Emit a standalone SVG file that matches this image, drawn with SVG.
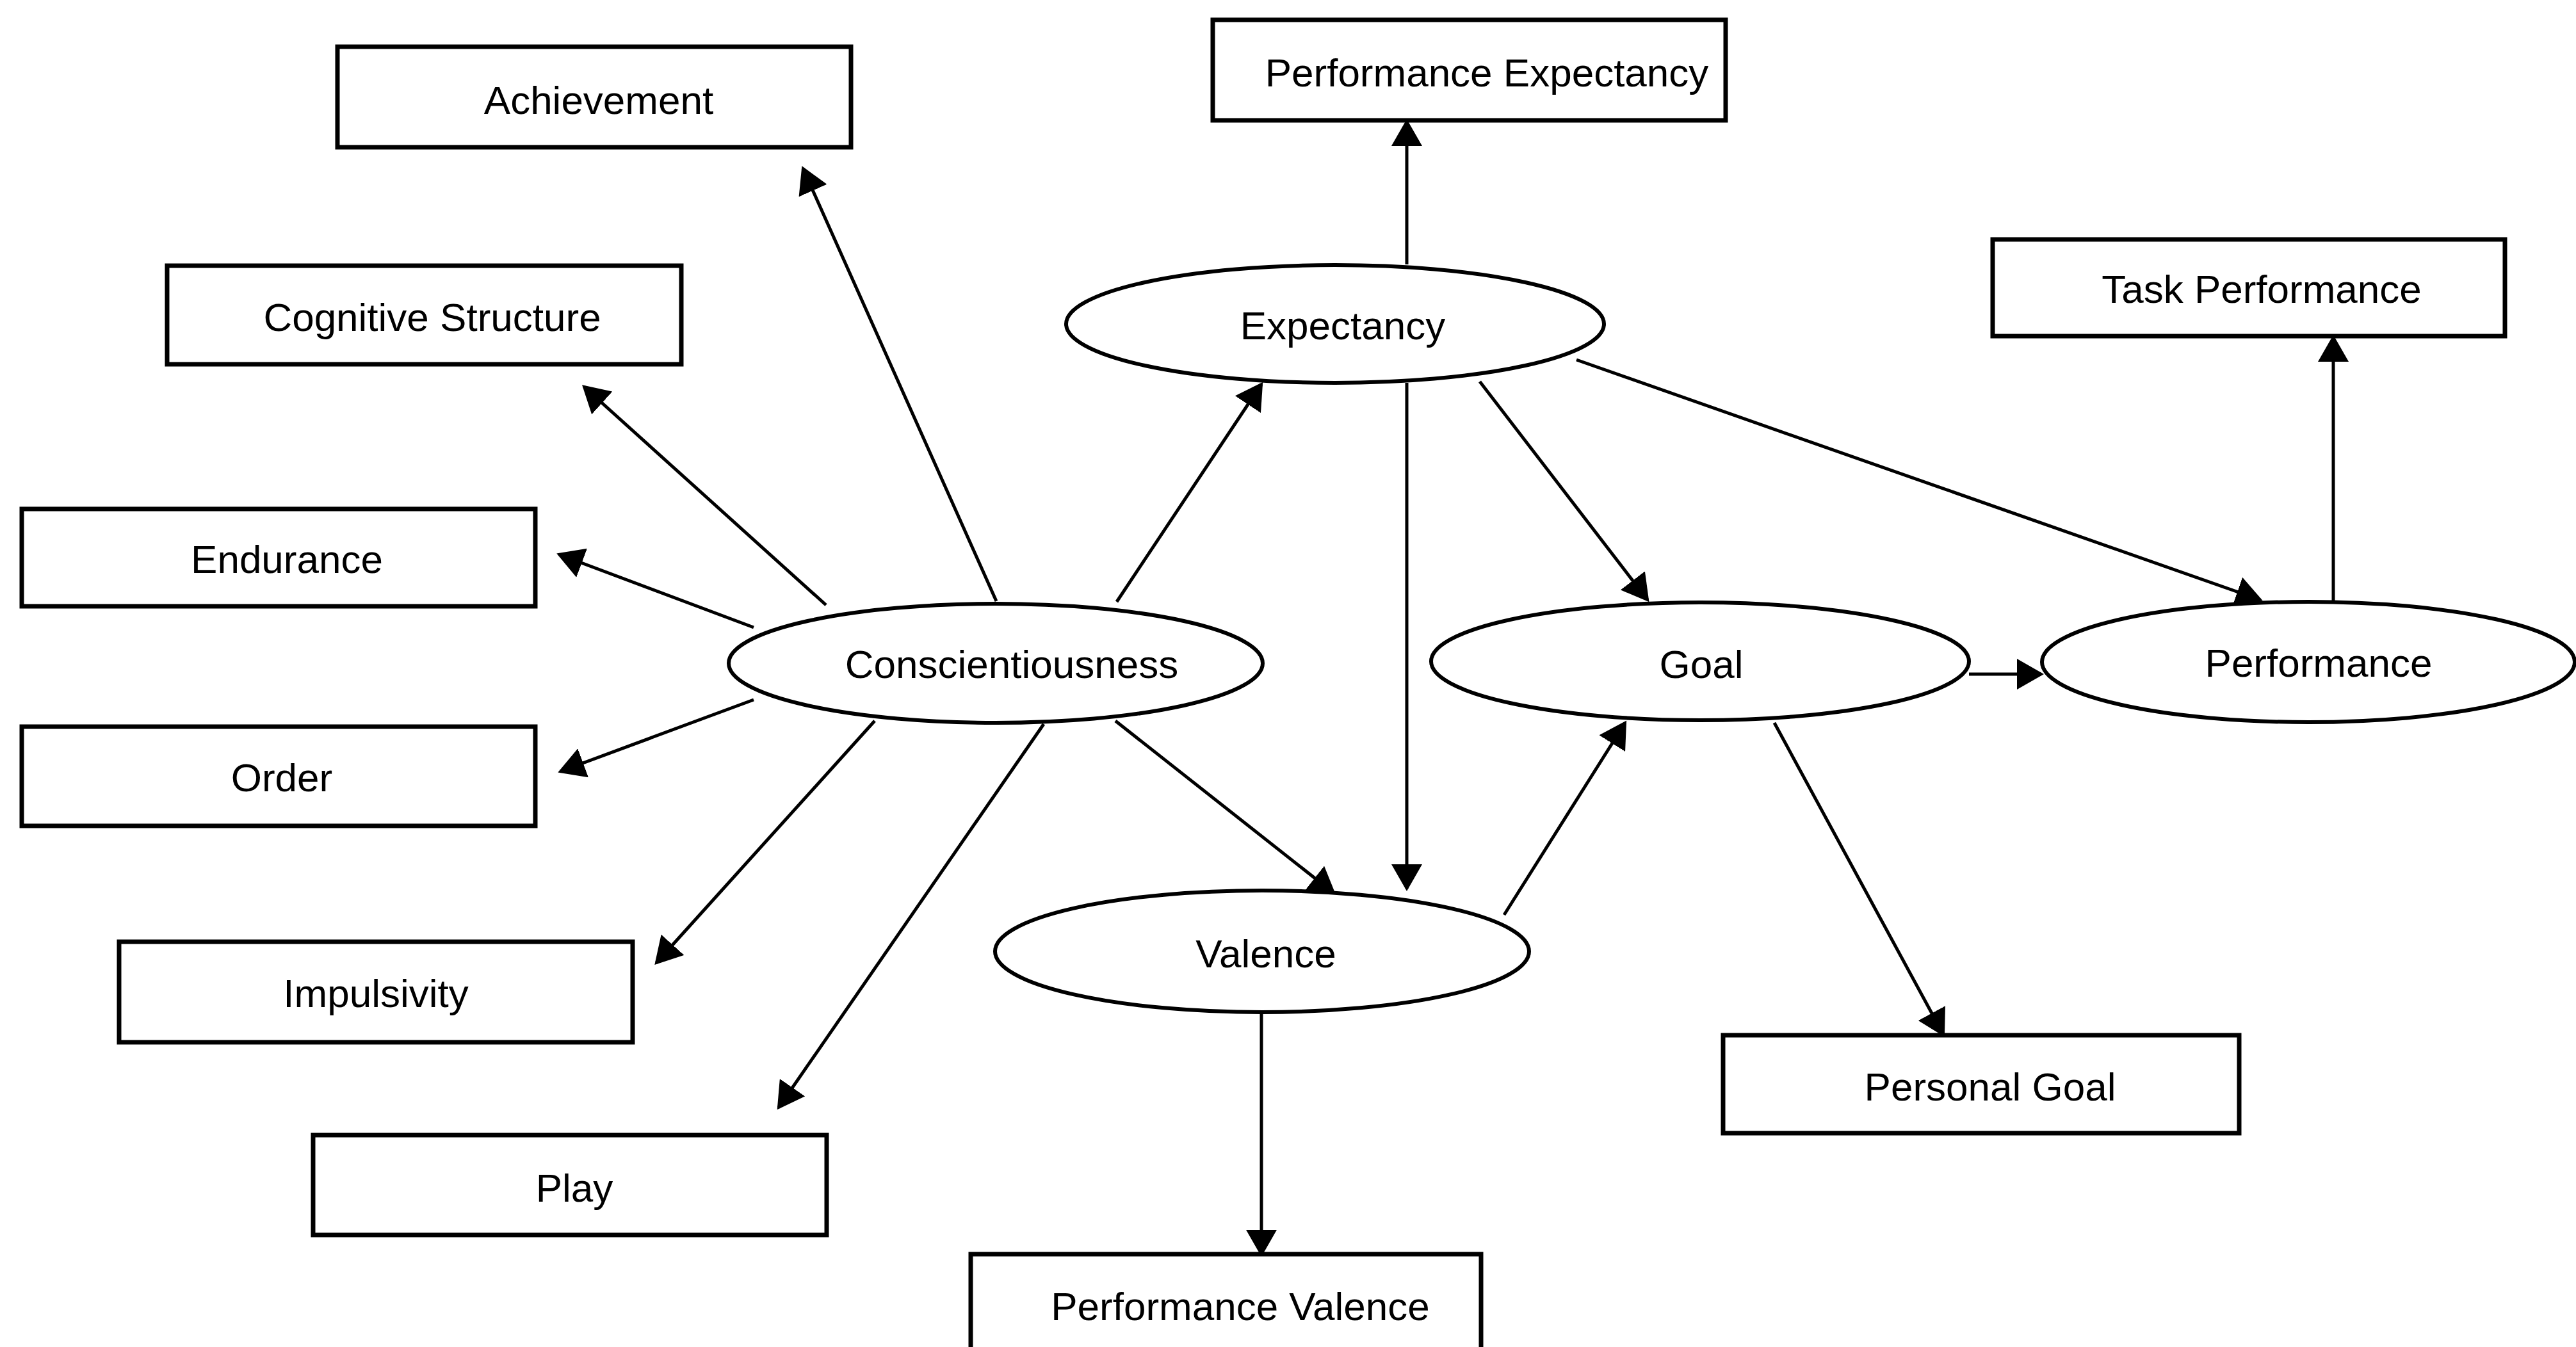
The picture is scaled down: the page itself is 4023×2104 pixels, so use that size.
<svg xmlns="http://www.w3.org/2000/svg" width="4023" height="2104" viewBox="0 0 4023 2104">
  <style>
    .box { fill: #fff; stroke: #000; stroke-width: 7; }
    .oval { fill: #fff; stroke: #000; stroke-width: 6; }
    .lbl { font-family: "Liberation Sans", Arial, sans-serif; font-size: 62px; fill: #000; text-anchor: middle; }
    .edge { stroke: #000; stroke-width: 5; fill: none; marker-end: url(#arr); }
  </style>
  <defs>
    <marker id="arr" viewBox="0 0 42 48" refX="38" refY="24" markerWidth="42" markerHeight="48" markerUnits="userSpaceOnUse" orient="auto">
      <path d="M0,0 L42,24 L0,48 z" fill="#000"/>
    </marker>
  </defs>
  <rect width="4023" height="2104" fill="#fff"/>

  <!-- connectors -->
  <g id="connectors">
    <line class="edge" x1="1556" y1="939" x2="1254" y2="263"/>
    <line class="edge" x1="1290" y1="945" x2="912" y2="604"/>
    <line class="edge" x1="1177" y1="980" x2="873" y2="866"/>
    <line class="edge" x1="1177" y1="1093" x2="875" y2="1205"/>
    <line class="edge" x1="1366" y1="1126" x2="1025" y2="1504"/>
    <line class="edge" x1="1630" y1="1131" x2="1216" y2="1730"/>
    <line class="edge" x1="1744" y1="940" x2="1970" y2="600"/>
    <line class="edge" x1="1742" y1="1126" x2="2083" y2="1395"/>
    <line class="edge" x1="2197" y1="598" x2="2197" y2="1388"/>
    <line class="edge" x1="2197" y1="413" x2="2197" y2="190"/>
    <line class="edge" x1="2311" y1="596" x2="2573" y2="937"/>
    <line class="edge" x1="2462" y1="562" x2="3530" y2="937"/>
    <line class="edge" x1="2349" y1="1429" x2="2538" y2="1129"/>
    <line class="edge" x1="1970" y1="1582" x2="1970" y2="1959"/>
    <line class="edge" x1="3075" y1="1053" x2="3188" y2="1053"/>
    <line class="edge" x1="3644" y1="940" x2="3644" y2="527"/>
    <line class="edge" x1="2771" y1="1129" x2="3035" y2="1616"/>
  </g>

  <!-- measured boxes -->
  <g id="achievement">
    <rect class="box" x="527" y="73" width="802" height="157"/>
    <text class="lbl" x="935" y="178">Achievement</text>
  </g>
  <g id="cognitive-structure">
    <rect class="box" x="261" y="415" width="803" height="154"/>
    <text class="lbl" x="675" y="517">Cognitive Structure</text>
  </g>
  <g id="endurance">
    <rect class="box" x="34" y="795" width="802" height="152"/>
    <text class="lbl" x="448" y="895">Endurance</text>
  </g>
  <g id="order">
    <rect class="box" x="34" y="1135" width="802" height="155"/>
    <text class="lbl" x="440" y="1236">Order</text>
  </g>
  <g id="impulsivity">
    <rect class="box" x="186" y="1471" width="802" height="157"/>
    <text class="lbl" x="587" y="1573">Impulsivity</text>
  </g>
  <g id="play">
    <rect class="box" x="489" y="1773" width="802" height="156"/>
    <text class="lbl" x="897" y="1877">Play</text>
  </g>
  <g id="performance-expectancy">
    <rect class="box" x="1894" y="31" width="801" height="157"/>
    <text class="lbl" x="2322" y="135">Performance Expectancy</text>
  </g>
  <g id="task-performance">
    <rect class="box" x="3112" y="374" width="800" height="151"/>
    <text class="lbl" x="3532" y="473">Task Performance</text>
  </g>
  <g id="personal-goal">
    <rect class="box" x="2691" y="1617" width="806" height="153"/>
    <text class="lbl" x="3108" y="1719">Personal Goal</text>
  </g>
  <g id="performance-valence">
    <rect class="box" x="1516" y="1959" width="797" height="170"/>
    <text class="lbl" x="1937" y="2062">Performance Valence</text>
  </g>

  <!-- latent constructs -->
  <g id="expectancy">
    <ellipse class="oval" cx="2085" cy="506" rx="420" ry="92"/>
    <text class="lbl" x="2097" y="530">Expectancy</text>
  </g>
  <g id="conscientiousness">
    <ellipse class="oval" cx="1555" cy="1036" rx="417" ry="93"/>
    <text class="lbl" x="1580" y="1059">Conscientiousness</text>
  </g>
  <g id="goal">
    <ellipse class="oval" cx="2655" cy="1033" rx="420" ry="92"/>
    <text class="lbl" x="2657" y="1059">Goal</text>
  </g>
  <g id="performance">
    <ellipse class="oval" cx="3605" cy="1034" rx="416" ry="94"/>
    <text class="lbl" x="3621" y="1057">Performance</text>
  </g>
  <g id="valence">
    <ellipse class="oval" cx="1971" cy="1486" rx="417" ry="95"/>
    <text class="lbl" x="1977" y="1511">Valence</text>
  </g>
</svg>
